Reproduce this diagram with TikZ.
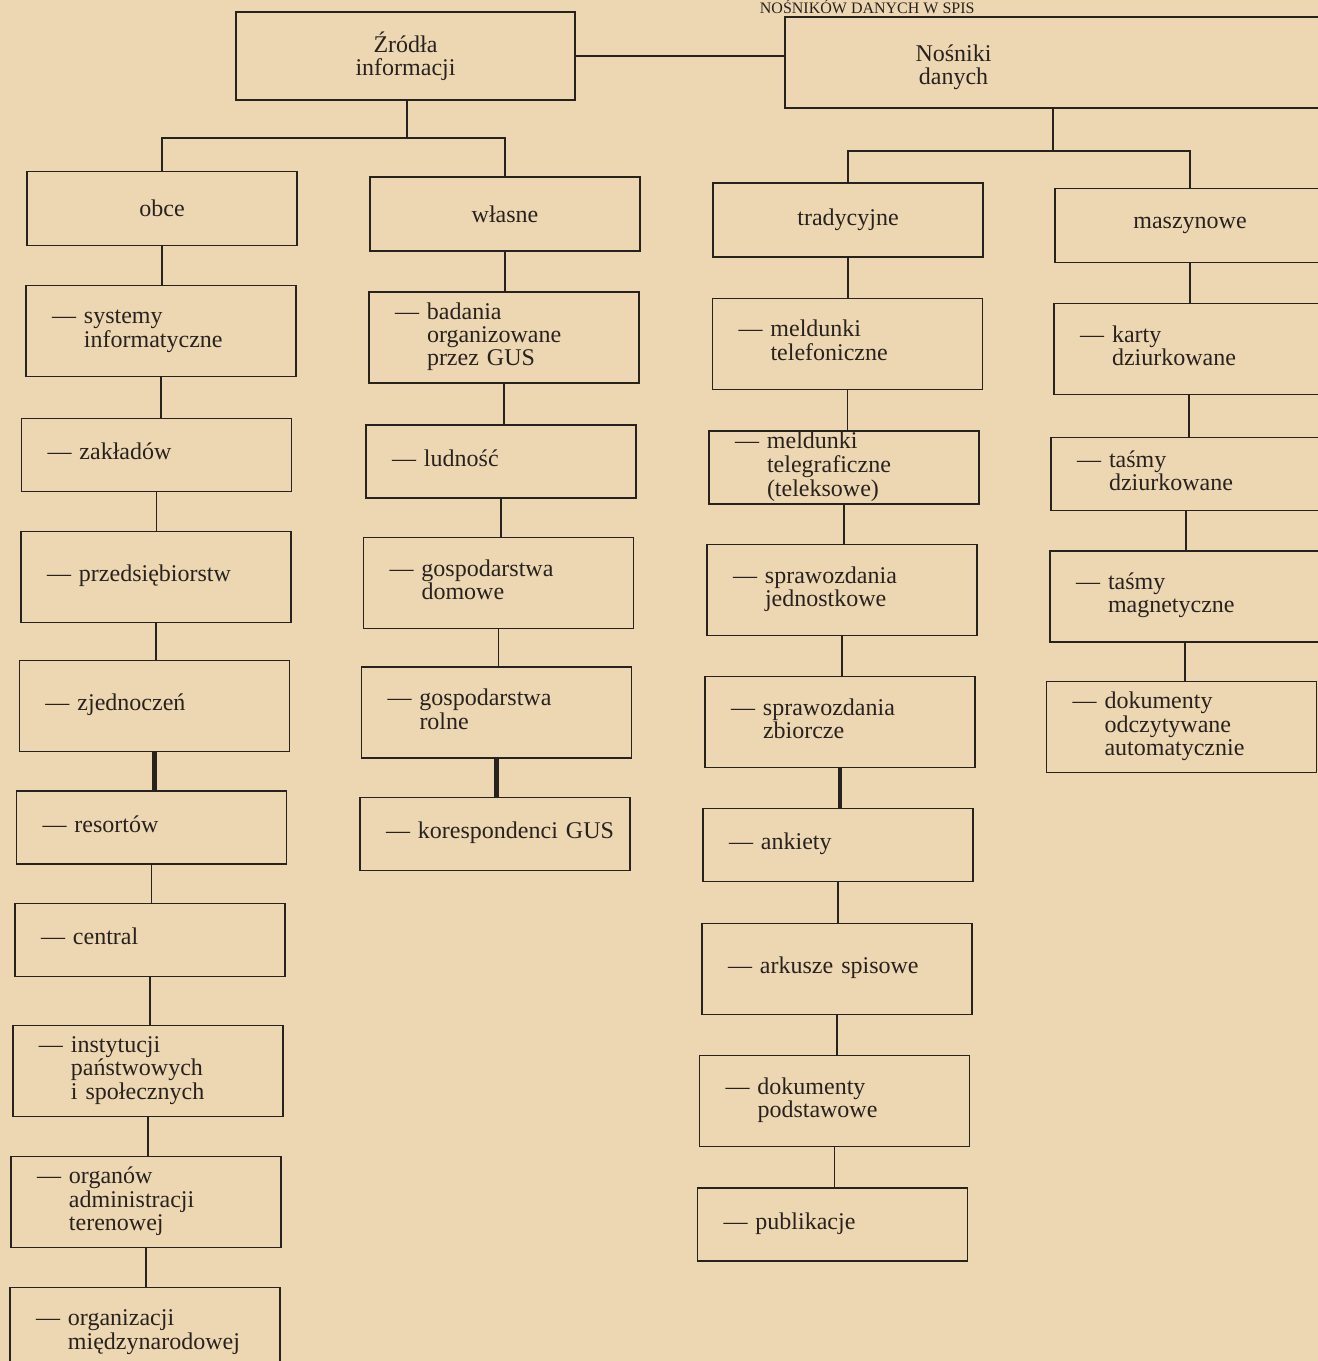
\documentclass[tikz,border=0pt]{standalone}
\usepackage{fontspec}
\setmainfont{Liberation Serif}
\usepackage{xcolor}
\usepackage{tikz}
\usetikzlibrary{positioning,calc}

\definecolor{paper}{RGB}{237,214,178}
\definecolor{ink}{RGB}{40,34,30}

\newcommand{\entry}[1]{\textemdash\ \begin{tabular}[t]{@{}l@{}}#1\end{tabular}}

\begin{document}
\begin{tikzpicture}[
      x=0.5pt, y=-0.5pt,
      font=\fontsize{12}{11.5}\selectfont,
      box/.style={draw=ink, line width=0.9pt, text=ink, inner sep=0pt},
      head/.style={box, align=center, minimum width=135pt, minimum height=37pt},
      item/.style={box, align=left, text width=#1, inner xsep=13pt},
      item/.default=109pt,
      tall/.style={minimum height=45.5pt},
      low/.style={minimum height=36.5pt},
      link/.style={draw=ink, line width=0.9pt},
      heavy/.style={link, line width=2.4pt}]

    \clip (0,0) rectangle (1318,1361);
    \fill[paper] (0,0) rectangle (1318,1361);

    \node[anchor=base east, inner sep=0pt, text=ink,
          font=\fontsize{8}{8}\selectfont] (title) at (975,13)
      {NOŚNIKÓW DANYCH W SPIS};

    % top level
    \node[box, align=center, minimum width=169.5pt, minimum height=44pt]
      (zrodla) at (405.5,56) {Źródła\\informacji};
    \node[box, minimum width=272.5pt, minimum height=45.5pt,
          label={[align=center, text=ink, xshift=-52pt, yshift=-2.25pt]center:Nośniki\\danych}]
      (nosniki) at (1057.5,62.5) {};

    \node[head] (obce) at (162,208.5) {obce};
    \node[head] (wlasne) at (505,214) {własne};
    \node[head] (tradycyjne) at (848,220) {tradycyjne};
    \node[head] (maszynowe) at (1190,225.5) {maszynowe};

    % obce
    \node[item, tall] (systemy) at (161,331) {\entry{systemy\\informatyczne}};
    \node[item, low]  (zaklady) at (156.5,455) {\entry{zakładów}};
    \node[item, tall] (przeds) at (156,577) {\entry{przedsiębiorstw}};
    \node[item, tall] (zjedn) at (154.5,706) {\entry{zjednoczeń}};
    \node[item, low]  (resorty) at (151.5,827.5) {\entry{resortów}};
    \node[item, low]  (central) at (150,940) {\entry{central}};
    \node[item, tall] (instyt) at (148,1071) {\entry{instytucji\\państwowych\\i społecznych}};
    \node[item, tall] (organy) at (146,1202) {\entry{organów\\administracji\\terenowej}};
    \node[item, tall] (orgmiedz) at (145,1333) {\entry{organizacji\\międzynarodowej}};

    % wlasne
    \node[item, tall] (badania) at (504,337.5) {\entry{badania\\organizowane\\przez GUS}};
    \node[item, low]  (ludnosc) at (501,461.5) {\entry{ludność}};
    \node[item, tall] (domowe) at (498.5,583) {\entry{gospodarstwa\\domowe}};
    \node[item, tall] (rolne) at (496.5,712.5) {\entry{gospodarstwa\\rolne}};
    \node[item, low] (koresp) at (495,834) {\rlap{\entry{korespondenci GUS}}};

    % tradycyjne
    \node[item, tall] (telef) at (847.5,344) {\entry{meldunki\\telefoniczne}};
    \node[item, low]  (telegr) at (844,467.5) {\entry{meldunki\\telegraficzne\\(teleksowe)}};
    \node[item, tall] (jednost) at (842,590) {\entry{sprawozdania\\jednostkowe}};
    \node[item, tall] (zbior) at (840,722) {\entry{sprawozdania\\zbiorcze}};
    \node[item, low]  (ankiety) at (838,845) {\entry{ankiety}};
    \node[item, tall] (arkusze) at (837,969) {\entry{arkusze spisowe}};
    \node[item, tall] (dokum) at (834.5,1101) {\entry{dokumenty\\podstawowe}};
    \node[item, low]  (publik) at (832.5,1224.5) {\entry{publikacje}};

    % maszynowe
    \node[item, tall] (karty) at (1189,349) {\entry{karty\\dziurkowane}};
    \node[item, low]  (tasmyd) at (1186,474) {\entry{taśmy\\dziurkowane}};
    \node[item, tall] (tasmym) at (1185,596.5) {\entry{taśmy\\magnetyczne}};
    \node[item, tall] (autom) at (1181.5,727) {\entry{dokumenty\\odczytywane\\automatycznie}};

    % connectors
    \draw[link] (zrodla.east) -- (zrodla.east -| nosniki.west);

    \coordinate (forkz) at (407,138);
    \coordinate (forkn) at (1053,151);
    \draw[link] (zrodla.south -| forkz) -- (forkz);
    \draw[link] (obce.north) |- (forkz) -| (wlasne.north);
    \draw[link] (nosniki.south -| forkn) -- (forkn);
    \draw[link] (tradycyjne.north) |- (forkn) -| (maszynowe.north);

    \draw[link] (obce.south) -- (obce.south |- systemy.north);
    \draw[link] (systemy.south) -- (systemy.south |- zaklady.north);
    \draw[link] (zaklady.south) -- (zaklady.south |- przeds.north);
    \draw[link] (przeds.south) -- (przeds.south |- zjedn.north);
    \draw[heavy] (zjedn.south) -- (zjedn.south |- resorty.north);
    \draw[link] (resorty.south) -- (resorty.south |- central.north);
    \draw[link] (central.south) -- (central.south |- instyt.north);
    \draw[link] (instyt.south) -- (instyt.south |- organy.north);
    \draw[link] (organy.south) -- (organy.south |- orgmiedz.north);

    \draw[link] (wlasne.south) -- (wlasne.south |- badania.north);
    \draw[link] (badania.south) -- (badania.south |- ludnosc.north);
    \draw[link] (ludnosc.south) -- (ludnosc.south |- domowe.north);
    \draw[link] (domowe.south) -- (domowe.south |- rolne.north);
    \draw[heavy] (rolne.south) -- (rolne.south |- koresp.north);

    \draw[link] (tradycyjne.south) -- (tradycyjne.south |- telef.north);
    \draw[link] (telef.south) -- (telef.south |- telegr.north);
    \draw[link] (telegr.south) -- (telegr.south |- jednost.north);
    \draw[link] (jednost.south) -- (jednost.south |- zbior.north);
    \draw[heavy] (zbior.south) -- (zbior.south |- ankiety.north);
    \draw[link] (ankiety.south) -- (ankiety.south |- arkusze.north);
    \draw[link] (arkusze.south) -- (arkusze.south |- dokum.north);
    \draw[link] (dokum.south) -- (dokum.south |- publik.north);

    \draw[link] (maszynowe.south) -- (maszynowe.south |- karty.north);
    \draw[link] (karty.south) -- (karty.south |- tasmyd.north);
    \draw[link] (tasmyd.south) -- (tasmyd.south |- tasmym.north);
    \draw[link] (tasmym.south) -- (tasmym.south |- autom.north);
  \end{tikzpicture}
\end{document}
